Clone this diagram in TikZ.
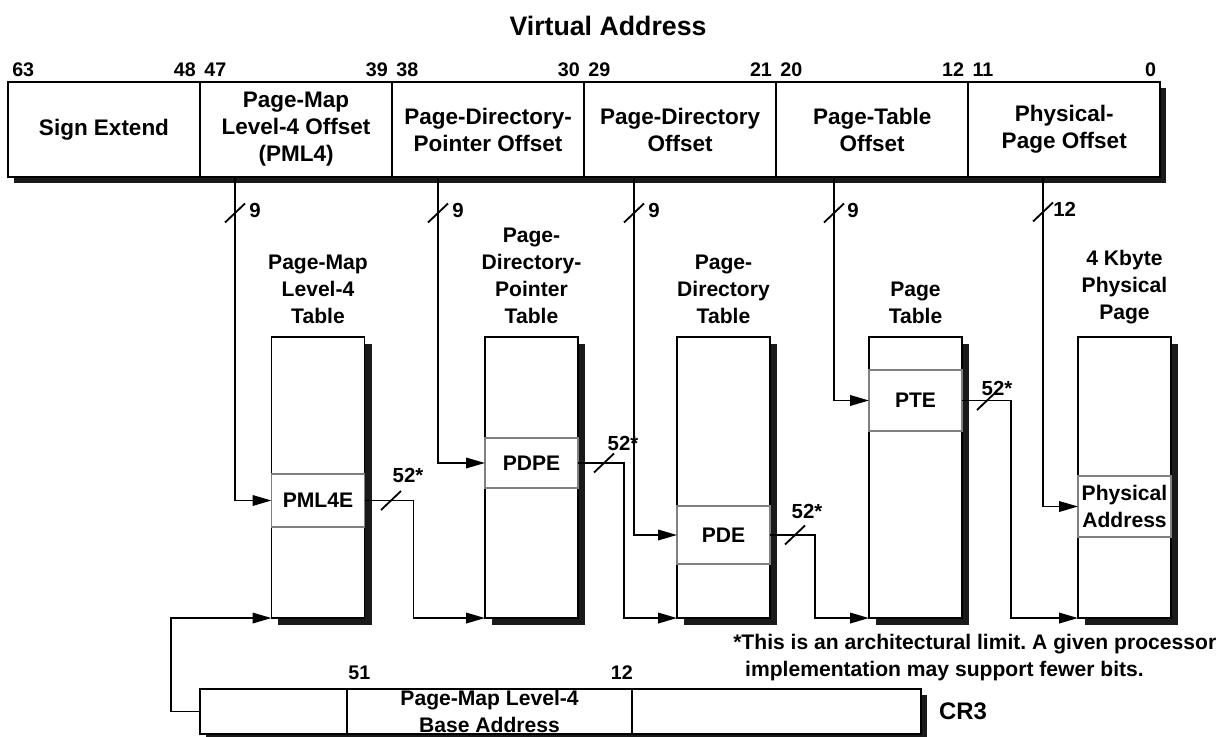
\documentclass[tikz,border=0pt]{standalone}
\usepackage{fontspec}
\setmainfont{Liberation Sans}
\usepackage{tikz}
\usetikzlibrary{arrows.meta,positioning,backgrounds}
\definecolor{shadowgray}{HTML}{1A1A1A}
\definecolor{entrygray}{HTML}{808080}
\frenchspacing
\tikzset{
  fieldbox/.style={
    draw,
    line width=1.3pt,
    fill=white,
    minimum width=4.8cm,
    minimum height=2.375cm,
    inner sep=0pt,
    outer sep=0pt,
    align=center,
    font=\fontsize{16}{19.2}\selectfont\bfseries
  },
  tablebox/.style={
    draw,
    line width=1.3pt,
    fill=white,
    minimum width=2.325cm,
    minimum height=7.025cm,
    inner sep=0pt,
    outer sep=0pt
  },
  entrybox/.style={
    draw=entrygray,
    line width=1.3pt,
    fill=white,
    minimum width=2.325cm,
    inner sep=0pt,
    outer sep=0pt,
    align=center,
    font=\fontsize{15}{19.2}\selectfont\bfseries
  },
  cr3box/.style={
    draw,
    line width=1.3pt,
    fill=white,
    minimum height=1.125cm,
    inner sep=0pt,
    outer sep=0pt,
    align=center,
    font=\fontsize{15}{19.2}\selectfont\bfseries
  },
  tabletitle/.style={align=center, inner sep=0pt, font=\fontsize{15}{19.2}\selectfont\bfseries},
  bitnum/.style={inner sep=0pt, font=\fontsize{14}{17}\selectfont\bfseries},
  buslabel/.style={inner sep=0pt, font=\fontsize{14.5}{17}\selectfont\bfseries},
  notetext/.style={align=left, inner sep=0pt, font=\fontsize{15}{19.2}\selectfont\bfseries},
  headtext/.style={inner sep=0pt, font=\fontsize{19}{22}\selectfont\bfseries},
  regtext/.style={inner sep=0pt, font=\fontsize{17}{20}\selectfont\bfseries},
  busmark/.style={line width=1.3pt},
  ptrarrow/.style={line width=1.3pt, -{Triangle[length=13.5pt,width=7.5pt]}},
  shadowfill/.style={fill=shadowgray}
}

\begin{document}
\begin{tikzpicture}[x=0.025cm, y=-0.025cm]
\useasboundingbox (0,0) rectangle (1222,736);

\node[headtext] (va) at (608,26) {Virtual Address};

% virtual address fields
\node[fieldbox] (sx) at (104,129.5) {Sign Extend};
\node[fieldbox, right=0pt of sx] (pml4o) {Page-Map\\Level-4 Offset\\(PML4)};
\node[fieldbox, right=0pt of pml4o] (pdpo) {Page-Directory-\\Pointer Offset};
\node[fieldbox, right=0pt of pdpo] (pdo) {Page-Directory\\Offset};
\node[fieldbox, right=0pt of pdo] (pto) {Page-Table\\Offset};
\node[fieldbox, right=0pt of pto] (po) {Physical-\\Page Offset};

\node[bitnum, anchor=south west] (b63) at ([shift={(4,-5)}]sx.north west) {63};
\node[bitnum, anchor=south east] (b48) at ([shift={(-4,-5)}]sx.north east) {48};
\node[bitnum, anchor=south west] (b47) at ([shift={(4,-5)}]pml4o.north west) {47};
\node[bitnum, anchor=south east] (b39) at ([shift={(-4,-5)}]pml4o.north east) {39};
\node[bitnum, anchor=south west] (b38) at ([shift={(4,-5)}]pdpo.north west) {38};
\node[bitnum, anchor=south east] (b30) at ([shift={(-4,-5)}]pdpo.north east) {30};
\node[bitnum, anchor=south west] (b29) at ([shift={(4,-5)}]pdo.north west) {29};
\node[bitnum, anchor=south east] (b21) at ([shift={(-4,-5)}]pdo.north east) {21};
\node[bitnum, anchor=south west] (b20) at ([shift={(4,-5)}]pto.north west) {20};
\node[bitnum, anchor=south east] (b12) at ([shift={(-4,-5)}]pto.north east) {12};
\node[bitnum, anchor=south west] (b11) at ([shift={(4,-5)}]po.north west) {11};
\node[bitnum, anchor=south east] (b0) at ([shift={(-4,-5)}]po.north east) {0};

% tables
\node[tablebox] (pml4t) at (318,477.5) {};
\node[tablebox] (pdpt) at (531.5,477.5) {};
\node[tablebox] (pdt) at (723.5,477.5) {};
\node[tablebox] (ptt) at (915.5,477.5) {};
\node[tablebox] (pgt) at (1124.5,477.5) {};

\node[tabletitle, above=9pt of pml4t] (pml4title) {Page-Map\\Level-4\\Table};
\node[tabletitle, above=9pt of pdpt] (pdptitle) {Page-\\Directory-\\Pointer\\Table};
\node[tabletitle, above=9pt of pdt] (pdtitle) {Page-\\Directory\\Table};
\node[tabletitle, above=9pt of ptt] (pttitle) {Page\\Table};
\node[tabletitle, above=9pt of pgt] (pgtitle) {4 Kbyte\\Physical\\Page};

\node[entrybox, minimum height=1.325cm] (pml4e) at (318,500.5) {PML4E};
\node[entrybox, minimum height=1.25cm] (pdpe) at (531.5,463) {PDPE};
\node[entrybox, minimum height=1.45cm] (pde) at (723.5,535) {PDE};
\node[entrybox, minimum height=1.525cm] (pte) at (915.5,400.5) {PTE};
\node[entrybox, minimum height=1.525cm] (pa) at (1124.5,506.5) {Physical\\Address};

% CR3 register
\node[cr3box, minimum width=3.675cm] (cr3hi) at (273.5,711.5) {};
\node[cr3box, right=0pt of cr3hi, minimum width=7.125cm] (cr3base) {Page-Map Level-4\\Base Address};
\node[cr3box, right=0pt of cr3base, minimum width=7.225cm] (cr3lo) {};
\node[regtext, right=12.5pt of cr3lo] (cr3) {CR3};
\node[bitnum, anchor=south west] (c51) at ([shift={(1,-9)}]cr3base.north west) {51};
\node[bitnum, anchor=south east] (c12) at ([shift={(1,-9)}]cr3base.north east) {12};

\node[notetext, anchor=north west] (note) at (733,634) {*This is an architectural limit. A given processor\\\hspace*{8.5pt}implementation may support fewer bits.};

% offsets into the tables
\coordinate (tap1) at (235,177);
\coordinate (tap2) at (438,177);
\coordinate (tap3) at (634,177);
\coordinate (tap4) at (834,177);
\coordinate (tap5) at (1043,177);
\draw[ptrarrow] (tap1) |- (pml4e.west);
\draw[ptrarrow] (tap2) |- (pdpe.west);
\draw[ptrarrow] (tap3) |- (pde.west);
\draw[ptrarrow] (tap4) |- (pte.west);
\draw[ptrarrow] (tap5) |- (pa.west);

\draw[busmark] (235,213) ++(-10,9.5) -- ++(20,-19);
\draw[busmark] (438,213) ++(-10,9.5) -- ++(20,-19);
\draw[busmark] (634,213) ++(-10,9.5) -- ++(20,-19);
\draw[busmark] (834,213) ++(-10,9.5) -- ++(20,-19);
\draw[busmark] (1043,212) ++(-10,9.5) -- ++(20,-19);
\node[buslabel, anchor=west] (w1) at (249,210) {9};
\node[buslabel, anchor=west] (w2) at (452,210) {9};
\node[buslabel, anchor=west] (w3) at (648,210) {9};
\node[buslabel, anchor=west] (w4) at (847,210) {9};
\node[buslabel, anchor=west] (w5) at (1053,209) {12};

% entry to next table base
\draw[ptrarrow] (pml4e.east) -- ++(49,0) |- (pdpt.south west);
\draw[ptrarrow] (pdpe.east) -- ++(46,0) |- (pdt.south west);
\draw[ptrarrow] (pde.east) -- ++(45,0) |- (ptt.south west);
\draw[ptrarrow] (pte.east) -- ++(49,0) |- (pgt.south west);

\draw[busmark] (391,500.5) ++(-10,9.5) -- ++(20,-19);
\draw[busmark] (604,463) ++(-10,9.5) -- ++(20,-19);
\draw[busmark] (795,535) ++(-10,9.5) -- ++(20,-19);
\draw[busmark] (987,400.5) ++(-10,9.5) -- ++(20,-19);
\node[buslabel] (v1) at (408,475) {52*};
\node[buslabel] (v2) at (623,443) {52*};
\node[buslabel] (v3) at (807,511) {52*};
\node[buslabel] (v4) at (997,388) {52*};

\draw[ptrarrow] (cr3hi.west) -- ++(-29,0) |- (pml4t.south west);

\begin{scope}[on background layer]
\fill[shadowfill] ([shift={(6,6)}]sx.north west) rectangle ([shift={(6,6)}]po.south east);
\fill[shadowfill] ([shift={(7,7)}]pml4t.north west) rectangle ([shift={(7,7)}]pml4t.south east);
\fill[shadowfill] ([shift={(7,7)}]pdpt.north west) rectangle ([shift={(7,7)}]pdpt.south east);
\fill[shadowfill] ([shift={(7,7)}]pdt.north west) rectangle ([shift={(7,7)}]pdt.south east);
\fill[shadowfill] ([shift={(7,7)}]ptt.north west) rectangle ([shift={(7,7)}]ptt.south east);
\fill[shadowfill] ([shift={(7,7)}]pgt.north west) rectangle ([shift={(7,7)}]pgt.south east);
\fill[shadowfill] ([shift={(6,6)}]cr3hi.north west) rectangle ([shift={(6,6)}]cr3lo.south east);
\end{scope}
\end{tikzpicture}
\end{document}
